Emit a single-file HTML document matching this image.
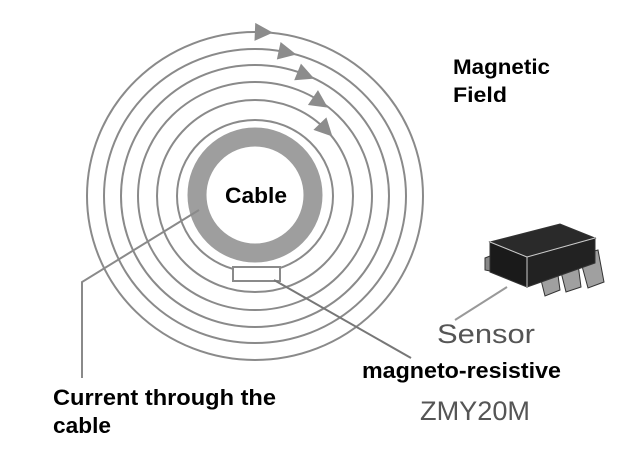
<!DOCTYPE html>
<html><head><meta charset="utf-8"><style>
html,body{margin:0;padding:0;background:#fff;}
svg{display:block;}
</style></head><body>
<svg width="622" height="453" viewBox="0 0 622 453" xmlns="http://www.w3.org/2000/svg">
<rect width="622" height="453" fill="#fff"/>
<g fill="none" stroke="#8a8a8a" stroke-width="2">
<ellipse cx="255" cy="196" rx="168" ry="164"/>
<ellipse cx="255" cy="196" rx="151" ry="147"/>
<ellipse cx="255" cy="196" rx="134" ry="131"/>
<ellipse cx="255" cy="196" rx="117" ry="114"/>
<ellipse cx="255" cy="196" rx="98" ry="96"/>
<ellipse cx="255" cy="196" rx="78" ry="76"/>
</g>
<circle cx="255" cy="195" r="58" fill="none" stroke="#9e9e9e" stroke-width="19"/>
<g fill="#8c8c8c">
<polygon points="-7,-9 11,0 -7,9" transform="rotate(2.4 255 196) translate(255 32)"/>
<polygon points="-7,-9 11,0 -7,9" transform="rotate(12 255 196) translate(255 49)"/>
<polygon points="-7,-9 11,0 -7,9" transform="rotate(22 255 196) translate(255 65)"/>
<polygon points="-7,-9 11,0 -7,9" transform="rotate(34 255 196) translate(255 82)"/>
<polygon points="-7,-9 11,0 -7,9" transform="rotate(46 255 196) translate(255 99)"/>
</g>
<rect x="233" y="267" width="47" height="14" fill="#fff" stroke="#8a8a8a" stroke-width="2"/>
<polyline points="199,210 82,282 82,378" fill="none" stroke="#8a8a8a" stroke-width="2"/>
<line x1="274" y1="280" x2="411" y2="358" stroke="#777" stroke-width="2"/>
<line x1="455" y1="320" x2="507" y2="287" stroke="#999" stroke-width="2"/>
<g stroke="#333" stroke-width="1">
<polygon points="485,258 495,254 495,272 485,270" fill="#888"/>
<polygon points="537,264 556,260 560,290 545,296" fill="#a0a0a0"/>
<polygon points="558,260 577,256 581,287 566,292" fill="#a0a0a0"/>
<polygon points="579,255 598,250 604,282 588,288" fill="#a0a0a0"/>
<polygon points="490,242 527,257 527,287 490,272" fill="#1a1a1a"/>
<polygon points="527,257 595,238 595,263 527,287" fill="#222"/>
<polygon points="490,242 560,224 595,238 527,257" fill="#2a2a2a"/>
</g>
<g stroke="#ccc" stroke-width="1"><line x1="490" y1="242" x2="527" y2="257"/><line x1="527" y1="257" x2="595" y2="238"/><line x1="527" y1="257" x2="527" y2="287"/></g>
<g font-family="Liberation Sans, Arial, sans-serif" lengthAdjust="spacingAndGlyphs">
<text x="225" y="203" font-size="22" font-weight="bold" fill="#000" textLength="62" lengthAdjust="spacingAndGlyphs">Cable</text>
<text x="453" y="74" font-size="21" font-weight="bold" fill="#000" textLength="97" lengthAdjust="spacingAndGlyphs">Magnetic</text>
<text x="453" y="102" font-size="21" font-weight="bold" fill="#000" textLength="54" lengthAdjust="spacingAndGlyphs">Field</text>
<text x="437" y="343" font-size="27" fill="#555" textLength="98" lengthAdjust="spacingAndGlyphs">Sensor</text>
<text x="362" y="378" font-size="22" font-weight="bold" fill="#000" textLength="199" lengthAdjust="spacingAndGlyphs">magneto-resistive</text>
<text x="420" y="420" font-size="27" fill="#555" textLength="110" lengthAdjust="spacingAndGlyphs">ZMY20M</text>
<text x="53" y="405" font-size="22" font-weight="bold" fill="#000" textLength="223" lengthAdjust="spacingAndGlyphs">Current through the</text>
<text x="53" y="433" font-size="22" font-weight="bold" fill="#000" textLength="58" lengthAdjust="spacingAndGlyphs">cable</text>
</g>
</svg>
</body></html>
